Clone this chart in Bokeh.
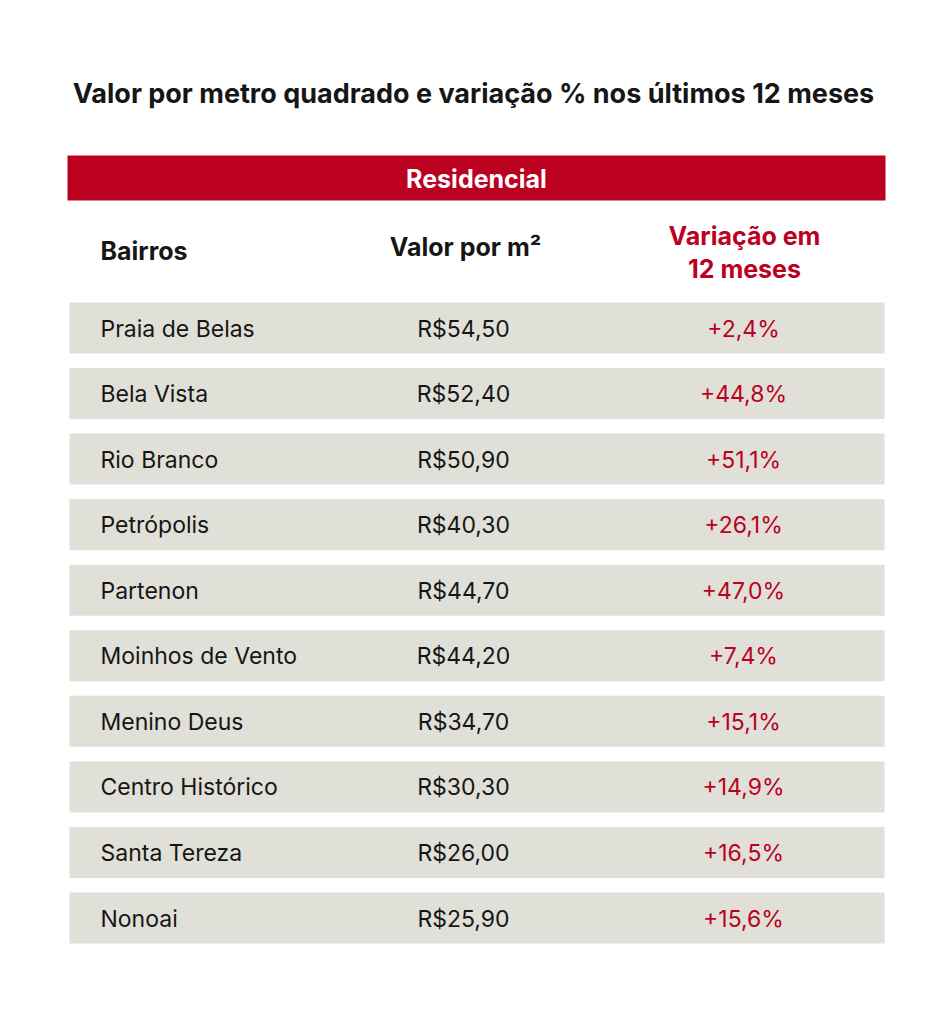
from bokeh.plotting import figure
from bokeh.models import Range1d, ColumnDataSource
from bokeh.core.properties import value
from bokeh.embed import file_html
from bokeh.resources import INLINE

title = "Valor por metro quadrado e variação % nos últimos 12 meses"
section = "Residencial"
col_headers = ["Bairros", "Valor por m²", "Variação em\n12 meses"]
bairros = ["Praia de Belas", "Bela Vista", "Rio Branco", "Petrópolis", "Partenon",
           "Moinhos de Vento", "Menino Deus", "Centro Histórico", "Santa Tereza", "Nonoai"]
valores = ["R$54,50", "R$52,40", "R$50,90", "R$40,30", "R$44,70",
           "R$44,20", "R$34,70", "R$30,30", "R$26,00", "R$25,90"]
variacao = ["+2,4%", "+44,8%", "+51,1%", "+26,1%", "+47,0%",
            "+7,4%", "+15,1%", "+14,9%", "+16,5%", "+15,6%"]

FONT = "Inter"
RED = "#BC0020"
GREY = "#E0E0D8"
DARK = "#161616"

W, H = 936, 1008
p = figure(width=W, height=H, output_backend="svg", toolbar_location=None,
           x_range=Range1d(0, W), y_range=Range1d(H, 0),
           min_border=0)
p.axis.visible = False
p.grid.visible = False
p.outline_line_color = None
p.background_fill_color = "white"
p.border_fill_color = "white"

# title
p.text(x=[473], y=[93], text=[title], text_font=value(FONT), text_font_size="27px",
       text_font_style="bold", text_color=DARK, text_align="center", text_baseline="middle")

# red band
p.quad(left=[67], right=[885], top=[155], bottom=[200], fill_color=RED, line_color=None)
p.text(x=[476], y=[178], text=[section], text_font=value(FONT), text_font_size="25px",
       text_font_style="bold", text_color="white", text_align="center", text_baseline="middle")

# column headers
p.text(x=[100], y=[250], text=[col_headers[0]], text_font=value(FONT), text_font_size="25px",
       text_font_style="bold", text_color=DARK, text_align="left", text_baseline="middle")
p.text(x=[465], y=[246], text=[col_headers[1]], text_font=value(FONT), text_font_size="25px",
       text_font_style="bold", text_color=DARK, text_align="center", text_baseline="middle")
p.text(x=[744], y=[252], text=[col_headers[2]], text_font=value(FONT), text_font_size="25px",
       text_font_style="bold", text_color=RED, text_align="center", text_baseline="middle",
       text_line_height=1.1)

# rows
n = len(bairros)
pitch = 65.56
tops = [302 + i * pitch for i in range(n)]
mids = [t + 26 for t in tops]
src = ColumnDataSource(dict(top=tops, bottom=[t + 51 for t in tops], mid=mids,
                            b=bairros, v=valores, var=variacao))
p.quad(left=69, right=884, top="top", bottom="bottom", source=src,
       fill_color=GREY, line_color=None)
p.text(x=100, y="mid", text="b", source=src, text_font=value(FONT), text_font_size="23px",
       text_color=DARK, text_align="left", text_baseline="middle")
p.text(x=463, y="mid", text="v", source=src, text_font=value(FONT), text_font_size="23px",
       text_color=DARK, text_align="center", text_baseline="middle")
p.text(x=743, y="mid", text="var", source=src, text_font=value(FONT), text_font_size="23px",
       text_color=RED, text_align="center", text_baseline="middle")

open("out.html", "w").write(file_html(p, INLINE))
